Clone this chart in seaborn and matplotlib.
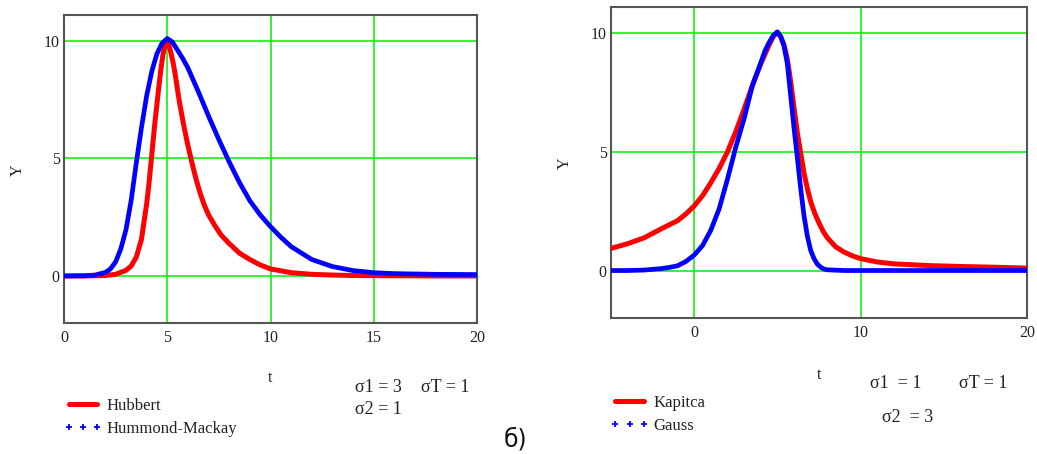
import matplotlib
matplotlib.use("Agg")
import matplotlib.pyplot as plt
from matplotlib.lines import Line2D
import seaborn as sns
import pandas as pd

# ---- data ----
t_hub = [0, 1, 2, 2.5, 3, 3.25, 3.5, 3.75, 4, 4.1, 4.2, 4.3, 4.4, 4.5, 4.6, 4.7, 4.8, 4.9,
         5, 5.1, 5.2, 5.3, 5.4, 5.5, 5.6, 5.8, 6, 6.2, 6.4, 6.6, 6.8, 7, 7.3, 7.6, 8, 8.5,
         9, 9.5, 10, 11, 12, 13, 14, 16, 18, 20]
y_hub = [0, 0, 0.02, 0.07, 0.24, 0.42, 0.8, 1.55, 3.05, 3.8, 4.7, 5.6, 6.5, 7.3, 8.1, 8.85,
         9.45, 9.85, 10.0, 9.75, 9.4, 9.0, 8.5, 7.9, 7.35, 6.4, 5.55, 4.8, 4.1, 3.5, 3.0,
         2.6, 2.15, 1.75, 1.38, 0.97, 0.7, 0.47, 0.3, 0.14, 0.07, 0.04, 0.02, 0.01, 0.0, 0.0]

t_hm = [0, 1, 1.5, 2, 2.25, 2.5, 2.75, 3, 3.25, 3.5, 3.75, 4, 4.25, 4.5, 4.75, 5, 5.25,
        5.5, 5.75, 6, 6.5, 7, 7.5, 8, 8.5, 9, 9.5, 10, 10.5, 11, 12, 13, 14, 15, 16, 18, 20]
y_hm = [0, 0.01, 0.04, 0.15, 0.3, 0.6, 1.15, 1.96, 3.2, 4.8, 6.3, 7.65, 8.7, 9.45, 9.9,
        10.1, 9.95, 9.6, 9.25, 8.85, 7.85, 6.8, 5.8, 4.85, 3.97, 3.2, 2.6, 2.1, 1.65, 1.25,
        0.7, 0.4, 0.23, 0.14, 0.1, 0.07, 0.06]

t_kap = [-5, -4, -3, -2, -1, -0.5, 0, 0.5, 1, 1.5, 2, 2.5, 3, 3.5, 4, 4.25, 4.5, 4.75, 5,
         5.2, 5.4, 5.6, 5.8, 6, 6.2, 6.4, 6.6, 6.8, 7, 7.25, 7.5, 7.75, 8, 8.5, 9, 9.5, 10,
         11, 12, 14, 16, 18, 20]
y_kap = [0.93, 1.13, 1.38, 1.75, 2.1, 2.38, 2.72, 3.15, 3.7, 4.3, 5.0, 5.85, 6.8, 7.8, 8.7,
         9.1, 9.5, 9.85, 10.04, 9.85, 9.5, 8.9, 7.95, 6.85, 5.8, 4.95, 4.1, 3.45, 2.9, 2.4,
         2.0, 1.65, 1.38, 1.0, 0.78, 0.62, 0.5, 0.36, 0.28, 0.21, 0.17, 0.14, 0.1]

t_gau = [-5, -4, -3, -2, -1.5, -1, -0.5, 0, 0.5, 1, 1.5, 2, 2.5, 3, 3.5, 4, 4.25, 4.5,
         4.75, 5, 5.2, 5.4, 5.6, 5.8, 6, 6.2, 6.4, 6.6, 6.8, 7, 7.2, 7.4, 7.6, 7.8, 8, 9,
         12, 16, 20]
y_gau = [0, 0, 0.02, 0.08, 0.13, 0.2, 0.38, 0.65, 1.05, 1.7, 2.6, 3.85, 5.2, 6.4, 7.8,
         8.75, 9.25, 9.6, 9.9, 10.05, 9.85, 9.45, 8.7, 7.35, 6.0, 4.75, 3.45, 2.3, 1.45,
         0.85, 0.5, 0.27, 0.14, 0.06, 0.03, 0, 0, 0, 0]

left_xticks = [0, 5, 10, 15, 20]
right_xticks = [0, 10, 20]
yticks = [0, 5, 10]

W, H = 1037, 454
sns.set_theme(style="white")
plt.rcParams["font.family"] = ["Liberation Serif", "DejaVu Serif"]

fig = plt.figure(figsize=(W / 100, H / 100), dpi=100)

def fx(px):
    return px / W

def fy(py):
    return 1 - py / H

ax1 = fig.add_axes([fx(64), fy(323), (477 - 64) / W, (323 - 15) / H])
ax2 = fig.add_axes([fx(611), fy(318), (1027 - 611) / W, (318 - 7) / H])

RED = "#ff0000"
BLUE = "#0000ff"
GRID = "#00ee00"
TC = "#222222"

def style(ax, xlim, xticks):
    ax.set_xlim(*xlim)
    ax.set_ylim(-2.0, 11.1)
    ax.set_xticks(xticks)
    ax.set_yticks(yticks)
    ax.grid(True, color=GRID, lw=1.1)
    ax.set_axisbelow(True)
    for s in ax.spines.values():
        s.set_color("#555555")
        s.set_linewidth(1.5)
    ax.tick_params(axis="both", length=0, labelsize=11.5, colors=TC)
    ax.tick_params(axis="x", pad=5)
    ax.tick_params(axis="y", pad=3)

df_l1 = pd.DataFrame({"t": t_hub, "Y": y_hub})
df_l2 = pd.DataFrame({"t": t_hm, "Y": y_hm})
sns.lineplot(data=df_l1, x="t", y="Y", ax=ax1, color=RED, lw=3.6, zorder=3)
sns.lineplot(data=df_l2, x="t", y="Y", ax=ax1, color=BLUE, lw=3.4, zorder=4)
style(ax1, (0, 20), left_xticks)

df_r1 = pd.DataFrame({"t": t_kap, "Y": y_kap})
df_r2 = pd.DataFrame({"t": t_gau, "Y": y_gau})
sns.lineplot(data=df_r1, x="t", y="Y", ax=ax2, color=RED, lw=3.6, zorder=3)
sns.lineplot(data=df_r2, x="t", y="Y", ax=ax2, color=BLUE, lw=3.4, zorder=4)
style(ax2, (-5, 20), right_xticks)

for ax, ycx, ycy, xcy in [(ax1, -0.092, 0.497, -0.153), (ax2, -0.091, 0.498, -0.158)]:
    ax.set_ylabel("Y", fontsize=11.5, color=TC)
    ax.set_xlabel("t", fontsize=11.5, color=TC)
    ax.yaxis.set_label_coords(ycx, ycy)
    ax.xaxis.set_label_coords(0.5, xcy)

def make_legend(ax, labels, x_px, y_px, hl):
    h_red = Line2D([], [], color=RED, lw=3.6)
    h_blue = Line2D([], [], color=BLUE, ls="none", marker="+", ms=4, mew=1.3)
    leg = ax.legend([h_red, h_blue], labels, loc="upper left",
                    bbox_to_anchor=(fx(x_px), fy(y_px)), bbox_transform=fig.transFigure,
                    frameon=False, fontsize=12, handlelength=hl, handletextpad=0.28,
                    labelspacing=0.4, borderpad=0, borderaxespad=0, numpoints=3)
    for txt in leg.get_texts():
        txt.set_color(TC)
    return leg

make_legend(ax1, ["Hubbert", "Hummond-Mackay"], 64, 398, 2.3)
make_legend(ax2, ["Kapitca", "Gauss"], 610, 395, 2.35)

fs = 13
fig.text(fx(355), fy(388), "σ1 = 3", fontsize=fs, va="center", ha="left", color=TC)
fig.text(fx(421), fy(388), "σT = 1", fontsize=fs, va="center", ha="left", color=TC)
fig.text(fx(355), fy(409), "σ2 = 1", fontsize=fs, va="center", ha="left", color=TC)
fig.text(fx(870), fy(384), "σ1  = 1", fontsize=fs, va="center", ha="left", color=TC)
fig.text(fx(959), fy(384), "σT = 1", fontsize=fs, va="center", ha="left", color=TC)
fig.text(fx(882), fy(418), "σ2  = 3", fontsize=fs, va="center", ha="left", color=TC)
fig.text(fx(515), fy(439), "б)", fontsize=17, va="center", ha="center", color="#111111",
         family=["DejaVu Sans"])

fig.savefig("out.png", dpi=100)
